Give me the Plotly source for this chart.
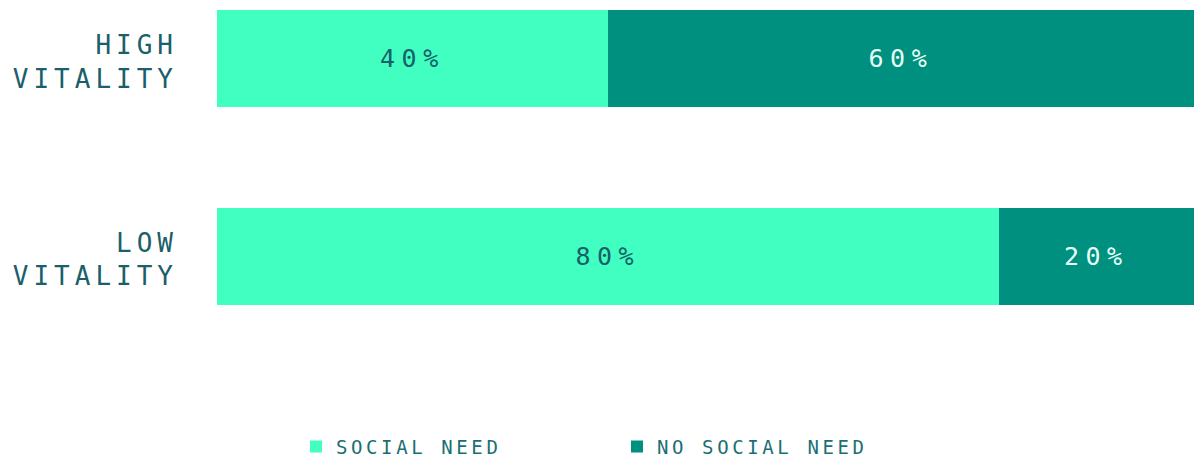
import plotly.graph_objects as go

categories = ["HIGH<br>VITALITY", "LOW<br>VITALITY"]
social_need = [40, 80]
no_social_need = [60, 20]
series_names = ["SOCIAL NEED", "NO SOCIAL NEED"]

LIGHT = "#40FFC0"
DARK = "#009080"
TEXT = "#1B5F6B"
FONT = "DejaVu Sans Mono, Liberation Mono, monospace"

fig = go.Figure()
fig.add_trace(go.Bar(
    y=categories, x=social_need, orientation="h", name=series_names[0],
    marker=dict(color=LIGHT, line=dict(width=0)),
    text=[f"{v}%" for v in social_need], textposition="inside",
    insidetextanchor="middle",
    insidetextfont=dict(family=FONT, size=25, color="#17606A"),
    hoverinfo="skip",
))
fig.add_trace(go.Bar(
    y=categories, x=no_social_need, orientation="h", name=series_names[1],
    marker=dict(color=DARK, line=dict(width=0)),
    text=[f"{v}%" for v in no_social_need], textposition="inside",
    insidetextanchor="middle",
    insidetextfont=dict(family=FONT, size=25, color="#E6FFF6"),
    hoverinfo="skip",
))

fig.update_layout(
    width=1199, height=460,
    barmode="stack", bargap=0.51,
    plot_bgcolor="white", paper_bgcolor="white",
    margin=dict(l=217, r=5, t=10, b=155, autoexpand=False),
    showlegend=True,
    legend=dict(
        orientation="h", x=(296 - 217) / 977, xanchor="left",
        y=-0.48, yanchor="middle",
        font=dict(family=FONT, size=19, color="#1B6F73"),
        entrywidth=276, entrywidthmode="pixels",
        traceorder="normal",
    ),
    xaxis=dict(range=[0, 100], visible=False, fixedrange=True),
    yaxis=dict(
        range=[1.245, -0.245], showgrid=False, zeroline=False, showline=False,
        ticks="", tickfont=dict(family=FONT, size=26, color=TEXT),
        ticklabelstandoff=38, fixedrange=True, automargin=False,
    ),
    uniformtext=dict(mode="show", minsize=10),
)

post = """
document.body.style.margin='0';
document.body.style.overflow='hidden';
var gd = document.getElementById('{plot_id}');
function sp(){
  gd.querySelectorAll('.ytick text').forEach(function(t){
    t.style.letterSpacing='5px';
    if(!t.dataset.shifted){
      t.setAttribute('transform', (t.getAttribute('transform')||'') + ' translate(0,3)');
      t.dataset.shifted='1';
    }
  });
  gd.querySelectorAll('.bartext').forEach(function(t){ t.style.letterSpacing='6.5px'; });
  gd.querySelectorAll('.legendtext').forEach(function(t){ t.style.letterSpacing='3.6px'; });
}
sp();
"""

fig.write_html("out.html", post_script=post, config={"displayModeBar": False})
